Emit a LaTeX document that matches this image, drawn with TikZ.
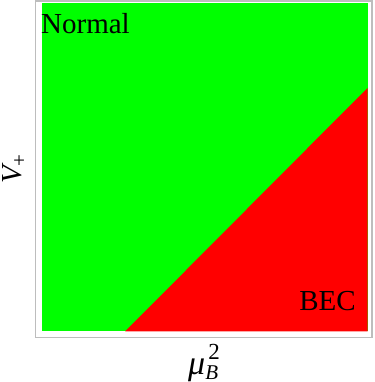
\documentclass[tikz,border=0pt]{standalone}
\usepackage{amsmath}
\usepackage{fontspec}
\setmainfont{Liberation Serif}
\usepackage{tikz}
\usetikzlibrary{positioning,calc}
\definecolor{cN}{HTML}{00FF00}
\definecolor{cB}{HTML}{FF0000}
\definecolor{frm}{HTML}{BDBDBD}
\tikzset{
  region/.style={draw=none},
  plotframe/.style={draw=frm,line width=1.3pt},
  lbl/.style={inner sep=0pt,font=\fontsize{29}{32}\selectfont},
}
\newcommand{\subsz}{\fontsize{21}{22}\selectfont}
\newcommand{\supsz}{\fontsize{23}{24}\selectfont}
\begin{document}
\begin{tikzpicture}[x=1pt,y=1pt]
  \useasboundingbox (0,0) rectangle (374,382);
  % corners of the plot range and the phase boundary
  \coordinate (sw) at (42,50.5);
  \coordinate (ne) at (367.5,379);
  \coordinate (b0) at (125,50.5);
  \coordinate (b1) at (367.5,294);
  \fill[cN,region] (sw) rectangle (ne);
  \fill[cB,region] (b0) -- (b1) -- (ne |- sw) -- cycle;
  \draw[plotframe] (35.5,44.5) rectangle (372,381);
  \node[lbl,anchor=base west] (normal) at (41,348) {Normal};
  \node[lbl,anchor=base east] (bec) at (356,71.3) {BEC};
  \node[lbl,anchor=base west] (xlab) at (188,7)
    {\fontsize{34}{36}\selectfont\itshape μ\rlap{\raisebox{-4.5pt}{\subsz B}}%
     \hspace{3pt}\raisebox{15pt}{\upshape\supsz 2}};
  \node[lbl,rotate=90,anchor=base west] (ylab) at (21.7,198)
    {\itshape V\raisebox{-4.5pt}{\upshape\subsz +}};
\end{tikzpicture}
\end{document}
